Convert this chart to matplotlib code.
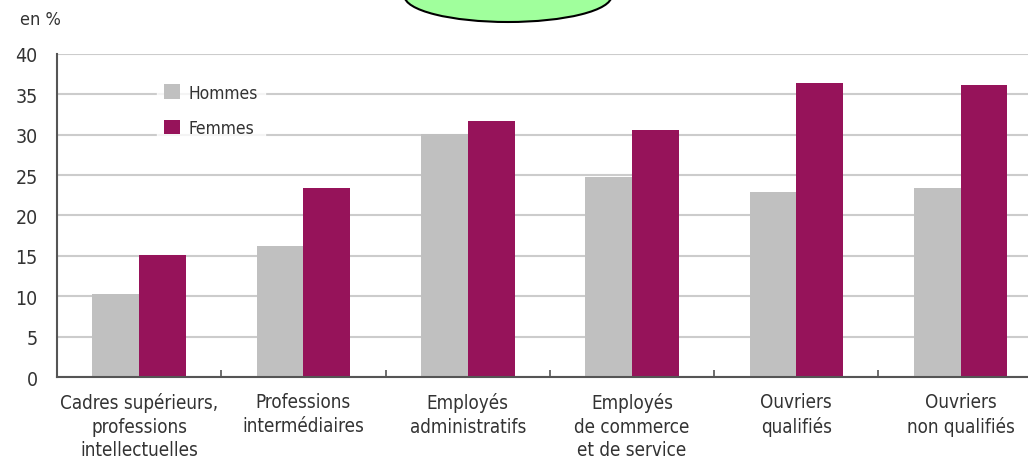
import matplotlib
matplotlib.use("Agg")
import matplotlib.pyplot as plt
from matplotlib.patches import Ellipse
import numpy as np

plt.rcParams['font.family'] = ['DejaVu Sans']
plt.rcParams['font.stretch'] = 'condensed'

# données (en %)
categories = ["Cadres supérieurs,\nprofessions\nintellectuelles",
              "Professions\nintermédiaires",
              "Employés\nadministratifs",
              "Employés\nde commerce\net de service",
              "Ouvriers\nqualifiés",
              "Ouvriers\nnon qualifiés"]
hommes = [10.3, 16.2, 30.1, 24.8, 22.9, 23.4]
femmes = [15.1, 23.4, 31.7, 30.6, 36.4, 36.2]
yticks = [0, 5, 10, 15, 20, 25, 30, 35, 40]

gris = "#c0c0c0"
prune = "#96135a"
texte = "#333333"

fig = plt.figure(figsize=(10.28, 4.6), dpi=100)
ax = fig.add_axes([57 / 1028, 1 - 378 / 460, 971 / 1028, 323 / 460])

x = np.arange(len(categories))
w = 0.285
ax.bar(x - w / 2, hommes, w, color=gris, label="Hommes", zorder=2)
ax.bar(x + w / 2, femmes, w, color=prune, label="Femmes", zorder=2)

ax.set_ylim(0, 40)
ax.set_xlim(-0.5, 5.41)
ax.set_yticks(yticks)
ax.yaxis.grid(True, color="#cccccc", linewidth=1.5, zorder=0)
ax.set_axisbelow(True)
ax.tick_params(axis="y", length=0, pad=14, labelsize=14, labelcolor=texte)

# graduations entre les groupes, libellés au centre
ax.set_xticks(x[:-1] + 0.5)
ax.set_xticklabels([])
ax.tick_params(axis="x", which="major", direction="in", length=5, color="#555555", width=1.2)
ax.set_xticks(x, minor=True)
ax.set_xticklabels(categories, minor=True, fontsize=13.5, color=texte, linespacing=1.3)
ax.tick_params(axis="x", which="minor", length=0, pad=11)

for s in ["top", "right"]:
    ax.spines[s].set_visible(False)
for s in ["left", "bottom"]:
    ax.spines[s].set_color("#555555")
    ax.spines[s].set_linewidth(1.5)

leg = ax.legend(loc="upper left", bbox_to_anchor=(100 / 971, 0.93), frameon=True,
                fontsize=12.5, handlelength=0.9, handleheight=0.9, handletextpad=0.5,
                labelspacing=1.0, borderpad=0.4, borderaxespad=0, fancybox=False)
leg.get_frame().set_facecolor("white")
leg.get_frame().set_edgecolor("white")
for t in leg.get_texts():
    t.set_color(texte)

fig.text(20 / 1028, 1 - 20 / 460, "en %", fontsize=13, color=texte, va="center", ha="left")

# ellipse verte en haut
ell = Ellipse((508 / 1028, 1 + 3 / 460), 207 / 1028, 52 / 460, transform=fig.transFigure,
              facecolor="#a0ff9c", edgecolor="black", linewidth=1.5)
fig.patches.append(ell)

fig.savefig("out.png", dpi=100)
